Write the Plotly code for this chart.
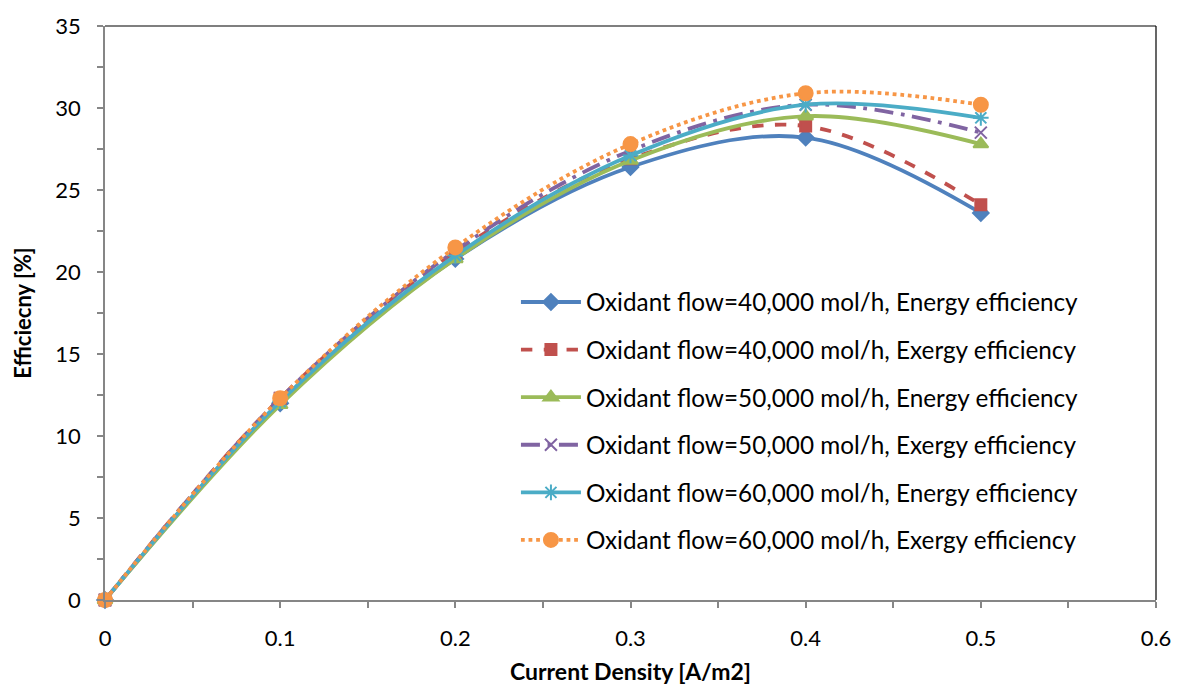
import plotly.graph_objects as go

current_density = [0, 0.1, 0.2, 0.3, 0.4, 0.5]
energy_40 = [0, 12.0, 20.8, 26.4, 28.2, 23.6]
exergy_40 = [0, 12.3, 21.2, 26.9, 28.9, 24.1]
energy_50 = [0, 11.9, 20.8, 26.8, 29.5, 27.8]
exergy_50 = [0, 12.3, 21.3, 27.4, 30.2, 28.5]
energy_60 = [0, 12.1, 21.0, 27.1, 30.2, 29.4]
exergy_60 = [0, 12.3, 21.5, 27.8, 30.9, 30.2]

names = [
    "Oxidant flow=40,000 mol/h, Energy efficiency",
    "Oxidant flow=40,000 mol/h, Exergy efficiency",
    "Oxidant flow=50,000 mol/h, Energy efficiency",
    "Oxidant flow=50,000 mol/h, Exergy efficiency",
    "Oxidant flow=60,000 mol/h, Energy efficiency",
    "Oxidant flow=60,000 mol/h, Exergy efficiency",
]
series = [energy_40, exergy_40, energy_50, exergy_50, energy_60, exergy_60]
colors = ["#4F81BD", "#C0504D", "#9BBB59", "#8064A2", "#4BACC6", "#F79646"]
dashes = ["solid", "dash", "solid", "longdashdot", "solid", "dot"]
symbols = ["diamond", "square", "triangle-up", "x-thin-open", "asterisk-open", "circle"]
sizes = [12, 11, 13, 12, 13, 14]

fig = go.Figure()
for i, (nm, ys) in enumerate(zip(names, series)):
    fig.add_trace(go.Scatter(
        x=current_density, y=ys, name=nm, mode="lines+markers",
        line=dict(color=colors[i], width=3.8, dash=dashes[i], shape="spline", smoothing=1),
        marker=dict(symbol=symbols[i], size=sizes[i], color=colors[i],
                    line=dict(color=colors[i], width=2)),
        legendgroup=str(i), cliponaxis=False,
    ))

font_family = "Lato, Liberation Sans, sans-serif"
axis_gray = "#868686"
fig.update_layout(
    width=1183, height=693,
    margin=dict(l=105, r=25, t=16, b=92),
    paper_bgcolor="white", plot_bgcolor="white",
    font=dict(family=font_family, size=22, color="black"),
    showlegend=True,
    legend=dict(x=0.391, y=0.558, xanchor="left", yanchor="top",
                bgcolor="rgba(0,0,0,0)", font=dict(size=24.3),
                tracegroupgap=13, itemwidth=60),
    xaxis=dict(range=[0, 0.6], dtick=0.1, tick0=0, showgrid=False, zeroline=False,
               showline=True, linecolor=axis_gray, linewidth=1.5,
               ticks="outside", ticklen=6, tickwidth=1.5, tickcolor=axis_gray,
               minor=dict(dtick=0.05, ticks="outside", ticklen=6, tickwidth=1.5, tickcolor=axis_gray),
               tickfont=dict(size=22), ticklabelstandoff=12,
               title=dict(text="<b>Current Density [A/m2]</b>", font=dict(size=23), standoff=14)),
    yaxis=dict(range=[0, 35], dtick=5, tick0=0, showgrid=False, zeroline=False,
               showline=True, linecolor=axis_gray, linewidth=1.5,
               ticks="outside", ticklen=6, tickwidth=1.5, tickcolor=axis_gray,
               minor=dict(dtick=2.5, ticks="outside", ticklen=6, tickwidth=1.5, tickcolor=axis_gray),
               tickfont=dict(size=22), ticklabelstandoff=12,
               title=dict(text="<b>Efficiecny [%]</b>", font=dict(size=22), standoff=18)),
    xaxis2=dict(overlaying="x", matches="x", range=[0, 0.6], dtick=0.1, showgrid=False,
                zeroline=False, showline=False, showticklabels=False,
                ticks="inside", ticklen=6, tickwidth=1.5, tickcolor=axis_gray,
                minor=dict(dtick=0.05, ticks="inside", ticklen=6, tickwidth=1.5, tickcolor=axis_gray)),
    yaxis2=dict(overlaying="y", matches="y", range=[0, 35], dtick=5, showgrid=False,
                zeroline=False, showline=False, showticklabels=False,
                ticks="inside", ticklen=6, tickwidth=1.5, tickcolor=axis_gray,
                minor=dict(dtick=2.5, ticks="inside", ticklen=6, tickwidth=1.5, tickcolor=axis_gray)),
    shapes=[
        dict(type="line", xref="paper", yref="paper", x0=0, x1=1, y0=1, y1=1,
             line=dict(color="black", width=1.2)),
        dict(type="line", xref="paper", yref="paper", x0=1, x1=1, y0=0, y1=1,
             line=dict(color="black", width=1.2)),
    ],
)

fig.write_html("out.html")
